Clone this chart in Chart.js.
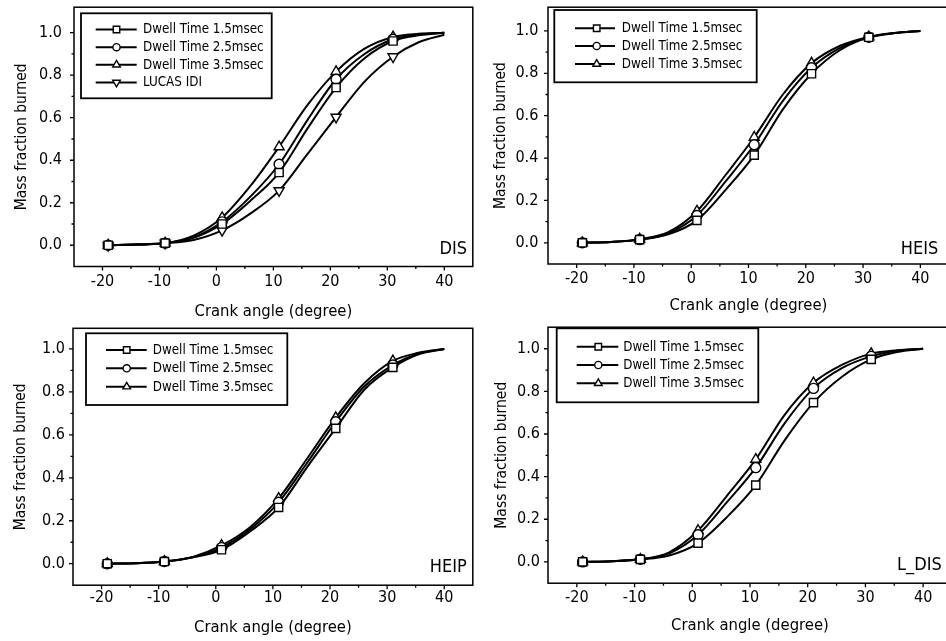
<!DOCTYPE html>
<html><head><meta charset="utf-8">
<script src="https://cdn.jsdelivr.net/npm/chart.js@4/dist/chart.umd.min.js"></script>
<style>
html,body{margin:0;padding:0;background:#fff;overflow:hidden;width:946px;height:641px;position:relative;}
canvas{position:absolute;}
</style></head><body>
<canvas id="c1" width="480" height="320" style="left:0;top:0"></canvas>
<canvas id="c2" width="480" height="320" style="left:480px;top:0"></canvas>
<canvas id="c3" width="480" height="321" style="left:0;top:320px"></canvas>
<canvas id="c4" width="480" height="321" style="left:480px;top:320px"></canvas>
<script>
// ---------------- data ----------------
const crankAngle   = [-19, -14, -9, -4, 1, 6, 11, 16, 21, 26, 31, 35.5, 40];
const markerAngles = [-19, -9, 1, 11, 21, 31];
const seriesNames  = ['Dwell Time 1.5msec', 'Dwell Time 2.5msec', 'Dwell Time 3.5msec', 'LUCAS IDI'];
const panelNames   = ['DIS', 'HEIS', 'HEIP', 'L_DIS'];
const xTitle = 'Crank angle (degree)';
const yTitle = 'Mass fraction burned';
const xTickValues = [-20, -10, 0, 10, 20, 30, 40];
const xTickLabels = ['-20', '-10', '0', '10', '20', '30', '40'];
const yTickValues = [0, 0.2, 0.4, 0.6, 0.8, 1.0];
const yTickLabels = ['0.0', '0.2', '0.4', '0.6', '0.8', '1.0'];
const xMinorTicks = [-15, -5, 5, 15, 25, 35];
const yMinorTicks = [0.1, 0.3, 0.5, 0.7, 0.9];

// DIS
const dis15    = [0, 0.003, 0.010, 0.035, 0.100, 0.210, 0.342, 0.550, 0.742, 0.880, 0.961, 0.988, 1.000];
const dis25    = [0, 0.003, 0.010, 0.037, 0.110, 0.230, 0.381, 0.590, 0.781, 0.900, 0.969, 0.991, 1.000];
const dis35    = [0, 0.003, 0.010, 0.045, 0.130, 0.280, 0.463, 0.660, 0.817, 0.925, 0.980, 0.995, 1.000];
const disLucas = [0, 0.003, 0.010, 0.025, 0.070, 0.150, 0.257, 0.430, 0.603, 0.770, 0.887, 0.955, 0.990];
// HEIS
const heis15 = [0, 0.004, 0.015, 0.040, 0.106, 0.250, 0.414, 0.630, 0.798, 0.910, 0.970, 0.990, 1.000];
const heis25 = [0, 0.004, 0.015, 0.045, 0.129, 0.290, 0.463, 0.670, 0.826, 0.920, 0.970, 0.990, 1.000];
const heis35 = [0, 0.004, 0.017, 0.050, 0.149, 0.320, 0.498, 0.700, 0.848, 0.930, 0.972, 0.990, 1.000];
// HEIP
const heip15 = [0, 0.002, 0.010, 0.030, 0.065, 0.150, 0.262, 0.450, 0.630, 0.810, 0.914, 0.975, 1.000];
const heip25 = [0, 0.002, 0.010, 0.030, 0.075, 0.160, 0.286, 0.470, 0.661, 0.825, 0.925, 0.978, 1.000];
const heip35 = [0, 0.002, 0.010, 0.032, 0.085, 0.170, 0.304, 0.490, 0.680, 0.840, 0.944, 0.982, 1.000];
// L_DIS
const ldis15 = [0, 0.003, 0.012, 0.030, 0.088, 0.210, 0.360, 0.570, 0.747, 0.870, 0.950, 0.985, 1.000];
const ldis25 = [0, 0.003, 0.012, 0.040, 0.127, 0.280, 0.442, 0.650, 0.814, 0.910, 0.964, 0.990, 1.000];
const ldis35 = [0, 0.003, 0.012, 0.045, 0.147, 0.310, 0.481, 0.690, 0.840, 0.925, 0.977, 0.993, 1.000];

// ---------------- style ----------------
const FONT = '"Liberation Sans Narrow", "DejaVu Sans Condensed", "Arial Narrow", sans-serif';
const markerStyles = [
  {style: 'rect', rot: 0, r: 5.8, lr: 4.6},
  {style: 'circle', rot: 0, r: 5, lr: 3.6},
  {style: 'triangle', rot: 0, r: 5.8, lr: 4.4},
  {style: 'triangle', rot: 180, r: 5.8, lr: 4.4}
];

const panels = [
  {id: 'c1', name: panelNames[0], series: [dis15, dis25, dis35, disLucas], yMax: 1.12, H: 320,
   pad: {left: 0, top: 5, right: 3.5, bottom: 0}, yW: 74, xH: 53.5, yTickPad: 12, xTickPad: 6, xTitlePad: 0.5, yTitlePad: 14,
   legend: {box: [81, 13.3, 271.7, 98.3], rows: [29.5, 47.2, 64.8, 82.5], line: [95.7, 136.7], marker: 116.5, text: 143},
   label: {x: 467, y: 254}},
  {id: 'c2', name: panelNames[1], series: [heis15, heis25, heis35], yMax: 1.112, H: 320,
   pad: {left: 0, top: 4, right: 11, bottom: 0}, yW: 68, xH: 56, yTickPad: 9.7, xTickPad: 5.5, xTitlePad: 6.5, yTitlePad: 13.3,
   legend: {box: [74.3, 10, 276.7, 82.3], rows: [28.3, 46, 64], line: [95, 135], marker: 116.7, text: 141.7},
   label: {x: 458.3, y: 254}},
  {id: 'c3', name: panelNames[2], series: [heip15, heip25, heip35], yMax: 1.096, H: 321,
   pad: {left: 0, top: 8.3, right: 3, bottom: 0}, yW: 73, xH: 55.8, yTickPad: 8, xTickPad: 3.3, xTitlePad: 4.8, yTitlePad: 13.5,
   legend: {box: [86, 13.3, 287.3, 85], rows: [30, 48.3, 66.7], line: [106, 146.7], marker: 126.7, text: 152.7},
   label: {x: 466.7, y: 251.7}},
  {id: 'c4', name: panelNames[3], series: [ldis15, ldis25, ldis35], yMax: 1.101, H: 321,
   pad: {left: 0, top: 5, right: 8, bottom: 0}, yW: 68, xH: 57.8, yTickPad: 8, xTickPad: 4.6, xTitlePad: 7.5, yTitlePad: 14.3,
   legend: {box: [76.7, 8.3, 278.3, 82.3], rows: [26.7, 45, 63.3], line: [96.7, 138.3], marker: 118.3, text: 143.3},
   label: {x: 461.7, y: 250}}
];

function drawMarker(ctx, style, rot, r, x, y) {
  ctx.save();
  ctx.fillStyle = '#fff';
  ctx.strokeStyle = '#000';
  ctx.lineWidth = 1.4;
  Chart.helpers.drawPoint(ctx, {pointStyle: style, rotation: rot, radius: r, borderWidth: 1.4}, x, y);
  ctx.restore();
}

const framePlugin = {
  id: 'frame',
  afterDraw(chart, args, opts) {
    const {ctx, chartArea: a, scales: {x, y}} = chart;
    const p = opts.panel;
    ctx.save();
    ctx.strokeStyle = '#000';
    ctx.lineWidth = 1.5;
    ctx.strokeRect(a.left, a.top, a.right - a.left, a.bottom - a.top);
    ctx.lineWidth = 1.3;
    ctx.beginPath();
    xTickValues.forEach(v => { const px = x.getPixelForValue(v); ctx.moveTo(px, a.bottom); ctx.lineTo(px, a.bottom + 4); });
    xMinorTicks.forEach(v => { const px = x.getPixelForValue(v); ctx.moveTo(px, a.bottom); ctx.lineTo(px, a.bottom + 2.5); });
    yTickValues.forEach(v => { const py = y.getPixelForValue(v); ctx.moveTo(a.left, py); ctx.lineTo(a.left - 4, py); });
    yMinorTicks.forEach(v => { const py = y.getPixelForValue(v); ctx.moveTo(a.left, py); ctx.lineTo(a.left - 2.5, py); });
    ctx.stroke();

    // legend box
    const L = p.legend;
    ctx.fillStyle = '#fff';
    ctx.fillRect(L.box[0], L.box[1], L.box[2] - L.box[0], L.box[3] - L.box[1]);
    ctx.lineWidth = 1.8;
    ctx.strokeRect(L.box[0], L.box[1], L.box[2] - L.box[0], L.box[3] - L.box[1]);
    ctx.font = '13.3px ' + FONT;
    ctx.textBaseline = 'middle';
    ctx.textAlign = 'left';
    p.series.forEach((s, i) => {
      const yy = L.rows[i];
      ctx.strokeStyle = '#000';
      ctx.lineWidth = 2;
      ctx.beginPath(); ctx.moveTo(L.line[0], yy); ctx.lineTo(L.line[1], yy); ctx.stroke();
      const m = markerStyles[i];
      drawMarker(ctx, m.style, m.rot, m.lr, L.marker, yy);
      ctx.fillStyle = '#000';
      ctx.fillText(seriesNames[i], L.text, yy + 0.5);
    });

    // panel label
    ctx.font = '18px ' + FONT;
    ctx.textAlign = 'right';
    ctx.textBaseline = 'alphabetic';
    ctx.fillStyle = '#000';
    ctx.fillText(p.name, p.label.x, p.label.y);
    ctx.restore();
  }
};

panels.forEach(p => {
  const datasets = p.series.map((vals, i) => {
    const m = markerStyles[i];
    return {
      label: seriesNames[i],
      data: crankAngle.map((a, k) => ({x: a, y: vals[k]})),
      borderColor: '#000',
      borderWidth: 2,
      backgroundColor: '#fff',
      fill: false,
      cubicInterpolationMode: 'monotone',
      pointStyle: m.style,
      pointRotation: m.rot,
      pointRadius: ctx => markerAngles.includes(crankAngle[ctx.dataIndex]) ? m.r : 0,
      pointBackgroundColor: '#fff',
      pointBorderColor: '#000',
      pointBorderWidth: 1.4,
      clip: false
    };
  });
  new Chart(document.getElementById(p.id), {
    type: 'line',
    data: {datasets},
    options: {
      responsive: false,
      animation: false,
      devicePixelRatio: 1,
      layout: {padding: p.pad},
      plugins: {legend: {display: false}, tooltip: {enabled: false}, frame: {panel: p}},
      scales: {
        x: {
          type: 'linear', min: -25, max: 45,
          grid: {display: false, drawTicks: false},
          border: {display: false},
          afterBuildTicks: s => { s.ticks = xTickValues.map(v => ({value: v})); },
          afterFit: s => { s.height = p.xH; s.paddingLeft = 0; s.paddingRight = 0; s.paddingTop = 0; s.paddingBottom = 0; },
          ticks: {autoSkip: false, maxRotation: 0, padding: p.xTickPad, color: '#000',
                  font: {family: FONT, size: 16}, callback: (v, i) => xTickLabels[i]},
          title: {display: true, text: xTitle, color: '#000', font: {family: FONT, size: 16.5, lineHeight: 1},
                  padding: {top: 0, bottom: p.xTitlePad}}
        },
        y: {
          type: 'linear', min: -0.1, max: p.yMax,
          grid: {display: false, drawTicks: false},
          border: {display: false},
          afterBuildTicks: s => { s.ticks = yTickValues.map(v => ({value: v})); },
          afterFit: s => { s.width = p.yW; s.paddingTop = 0; s.paddingBottom = 0; s.paddingLeft = 0; s.paddingRight = 0; },
          ticks: {autoSkip: false, padding: p.yTickPad, color: '#000',
                  font: {family: FONT, size: 16}, callback: (v, i) => yTickLabels[i]},
          title: {display: true, text: yTitle, color: '#000', font: {family: FONT, size: 15.5, lineHeight: 1},
                  padding: {top: p.yTitlePad, bottom: 0}}
        }
      }
    },
    plugins: [framePlugin]
  });
});
</script>
</body></html>
